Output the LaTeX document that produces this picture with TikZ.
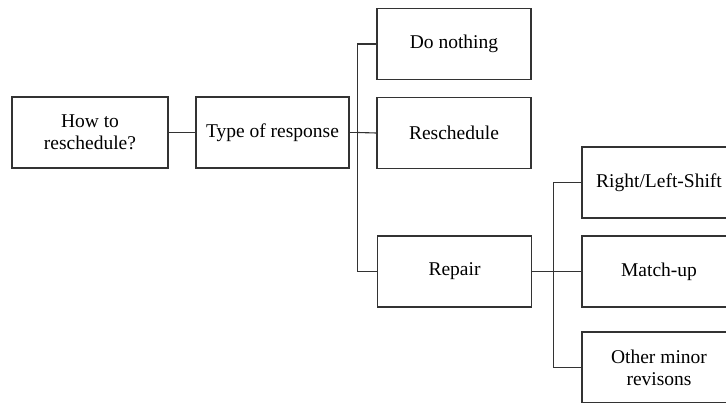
\documentclass[tikz,border=0pt]{standalone}
\usepackage{fontspec}
\setmainfont{Liberation Serif}
\usepackage{tikz}
\usetikzlibrary{positioning,calc}

\begin{document}
\begin{tikzpicture}[
        x=1pt, y=-1pt,
        every node/.style={font=\fontsize{19.5}{22}\selectfont},
        choice/.style={rectangle, draw=black!80, line width=1.1pt, fill=white, minimum width=154pt, minimum height=71pt, align=center, inner sep=0pt},
        link/.style={draw=black!80, line width=1.1pt}
        ]

        % Page frame (right column is cut off by the page edge)
        \useasboundingbox (0,0) rectangle (726,403);
        \clip (0,0) rectangle (726,403);

        % Level 0 and 1
        \node[choice, minimum width=156pt] (howto) at (90, 132.5) {How to\\reschedule?};
        \node[choice, minimum width=153pt] (type) at (272.5, 132.5) {Type of response};

        % Level 2
        \node[choice] (nothing) at (454, 44) {Do nothing};
        \node[choice] (resched) at (454, 133) {Reschedule};
        \node[choice] (repair) at (454.5, 271.5) {Repair};

        % Level 3
        \node[choice] (shift) at (659, 182.5) {Right/Left-Shift};
        \node[choice] (matchup) at (659, 271.5) {Match-up};
        \node[choice] (minor) at (659, 367.5) {Other minor\\revisons};

        % Tree connections
        \draw[link] (howto) -- (type);
        \coordinate (fork1) at ($(type.east)+(8,0)$);
        \draw[link] (type.east) -- (fork1) |- (nothing.west);
        \draw[link] (fork1) -- (resched.west);
        \draw[link] (fork1) |- (repair.west);

        \coordinate (fork2) at ($(repair.east)+(21,0)$);
        \draw[link] (repair.east) -- (fork2) |- (shift.west);
        \draw[link] (fork2) -- (matchup.west);
        \draw[link] (fork2) |- (minor.west);

\end{tikzpicture}
\end{document}
